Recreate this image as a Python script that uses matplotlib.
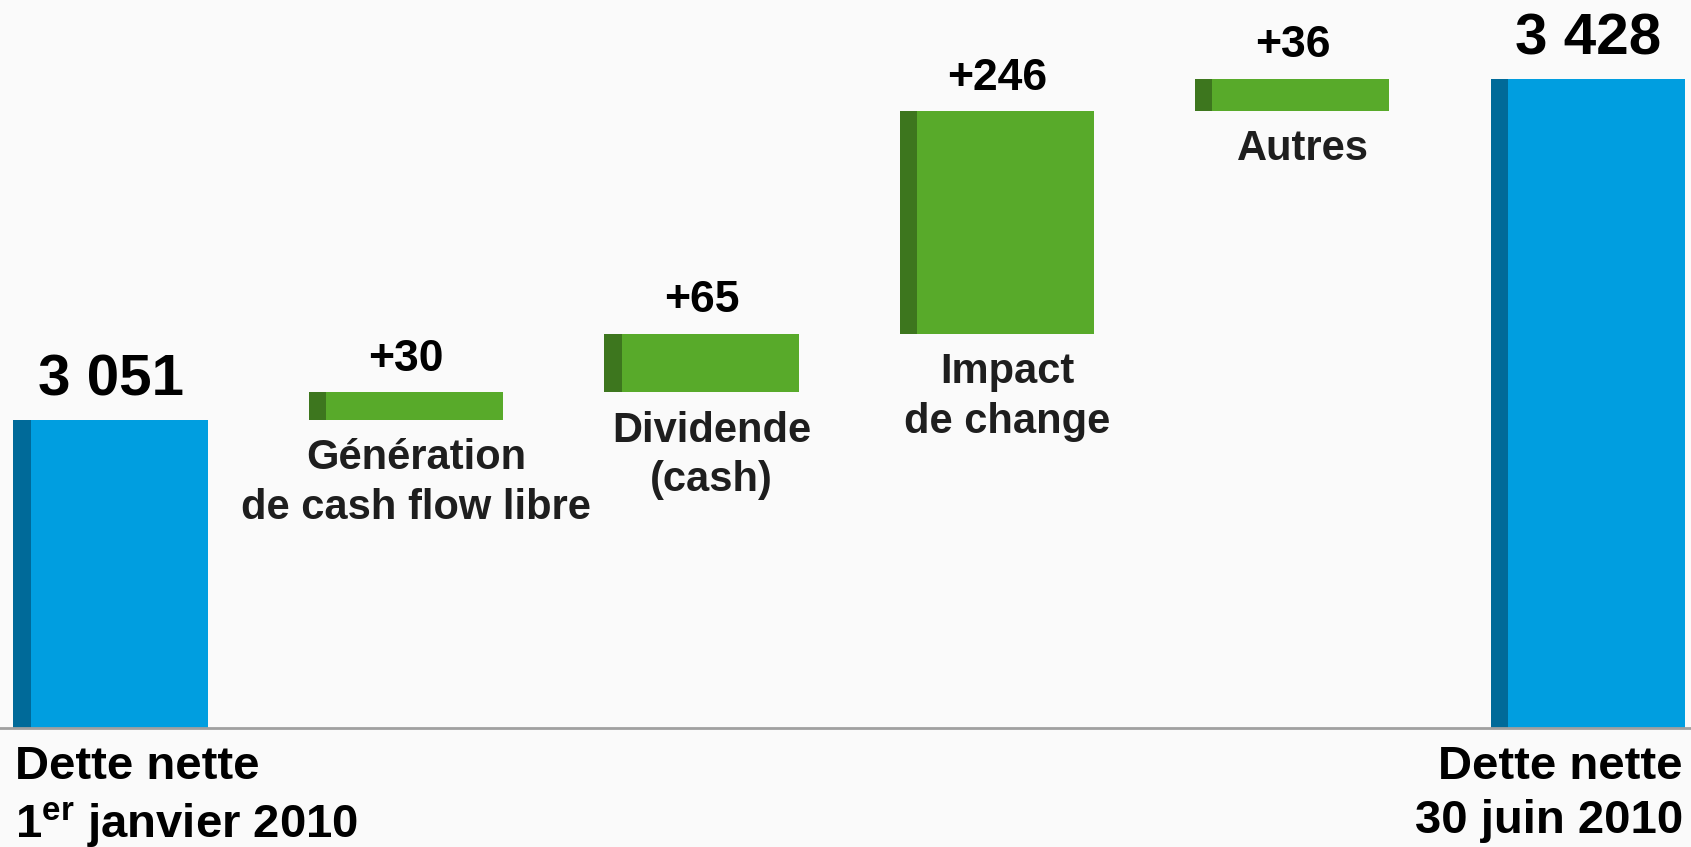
import matplotlib
matplotlib.use('Agg')
import matplotlib.pyplot as plt
import numpy as np

# donnees du pont de dette nette (M EUR)
start_value = 3051
end_value = 3428
steps = [30, 65, 246, 36]
step_labels = ["Génération\nde cash flow libre", "Dividende\n(cash)",
               "Impact\nde change", "Autres"]
value_labels = ["3 051", "+30", "+65", "+246", "+36", "3 428"]

plt.rcParams['font.family'] = ['Liberation Sans', 'DejaVu Sans']
plt.rcParams['mathtext.fontset'] = 'custom'
plt.rcParams['mathtext.rm'] = 'Liberation Sans'
plt.rcParams['mathtext.bf'] = 'Liberation Sans:bold'

bg = '#fafafa'
blue, blue_dark = '#009ee0', '#006a99'
green, green_dark = '#58aa2a', '#3d761e'

fig = plt.figure(figsize=(16.91, 8.47), dpi=100, facecolor=bg)
ax = fig.add_axes([0, 0.1405, 1, 0.8595], facecolor=bg)

y0 = 2710
width = 0.657
strip = 0.058

x = np.arange(6)
bottoms = [y0]
heights = [start_value - y0]
cum = start_value
for s in steps:
    bottoms.append(cum)
    heights.append(s)
    cum += s
bottoms.append(y0)
heights.append(end_value - y0)
colors = [blue] + [green] * len(steps) + [blue]
darks = [blue_dark] + [green_dark] * len(steps) + [blue_dark]

ax.bar(x, heights, width=width, bottom=bottoms, color=colors, linewidth=0)
# bande sombre a gauche de chaque barre
ax.bar(x - width / 2, heights, width=strip, bottom=bottoms, align='edge',
       color=darks, linewidth=0)

for i in range(6):
    top = bottoms[i] + heights[i]
    size = 42 if i in (0, 5) else 32
    ax.annotate(value_labels[i], (x[i], top), xytext=(0, 9),
                textcoords='offset points', ha='center', va='bottom',
                fontsize=size, fontweight='bold', color='black')

for i, lab in enumerate(step_labels):
    j = i + 1
    ax.annotate(lab, (x[j] + 0.035, bottoms[j]), xytext=(0, -13),
                textcoords='offset points', ha='center', va='top',
                fontsize=30, fontweight='bold', color='#1e1e1e',
                linespacing=1.32)

fig.text(15 / 1691, 1 - 745 / 847, "Dette nette\n1$^{\\mathbf{er}}$ janvier 2010",
         ha='left', va='top', fontsize=34, fontweight='bold',
         linespacing=1.3, color='black')
fig.text(1683 / 1691, 1 - 745 / 847, "Dette nette\n30 juin 2010",
         ha='right', va='top', fontsize=34, fontweight='bold',
         linespacing=1.3, color='black', multialignment='right')

ax.set_xlim(-0.374, 5.349)
ax.set_ylim(y0, 3515)
for side in ['top', 'left', 'right']:
    ax.spines[side].set_visible(False)
ax.spines['bottom'].set_color('#a0a0a0')
ax.spines['bottom'].set_linewidth(2)
ax.set_xticks([])
ax.set_yticks([])

plt.savefig("out.png", dpi=100, facecolor=bg)
